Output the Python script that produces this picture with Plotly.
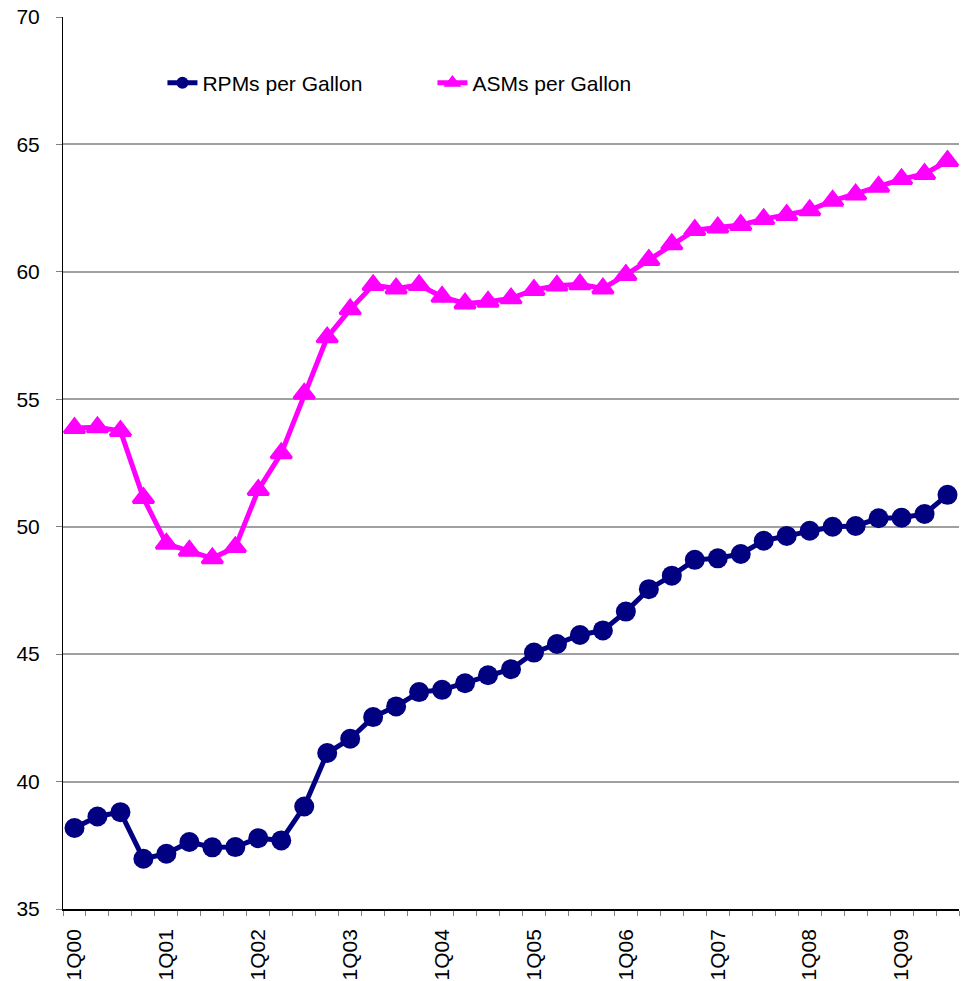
import plotly.graph_objects as go

quarters = [f"{q}Q{y:02d}" for y in range(0, 10) for q in range(1, 5)][:39]

rpms = [38.18, 38.63, 38.80, 36.97, 37.17, 37.63, 37.42, 37.43, 37.78, 37.69,
        39.02, 41.12, 41.68, 42.53, 42.95, 43.51, 43.60, 43.86, 44.17, 44.41,
        45.06, 45.40, 45.75, 45.93, 46.67, 47.55, 48.08, 48.70, 48.76, 48.93,
        49.45, 49.64, 49.84, 50.00, 50.03, 50.33, 50.35, 50.50, 51.25]

asms = [53.87, 53.90, 53.76, 51.13, 49.33, 49.06, 48.76, 49.20, 51.44, 52.88,
        55.22, 57.43, 58.53, 59.48, 59.35, 59.48, 59.02, 58.76, 58.83, 58.96,
        59.29, 59.46, 59.51, 59.35, 59.88, 60.47, 61.08, 61.64, 61.74, 61.84,
        62.07, 62.23, 62.42, 62.79, 63.04, 63.34, 63.64, 63.84, 64.35]

y_ticks = [35, 40, 45, 50, 55, 60, 65, 70]

FONT = "Arial, Liberation Sans, sans-serif"
xi = list(range(len(quarters)))

fig = go.Figure()
fig.add_trace(go.Scatter(
    x=xi, y=rpms, name="RPMs per Gallon", mode="lines+markers",
    line=dict(color="#000080", width=5),
    marker=dict(symbol="circle", size=20, color="#000080"),
    cliponaxis=False,
))
fig.add_trace(go.Scatter(
    x=xi, y=asms, name="ASMs per Gallon", mode="lines+markers",
    line=dict(color="#FF00FF", width=5),
    marker=dict(symbol="triangle-up", size=18, color="#FF00FF",
                line=dict(color="#FF00FF", width=3)),
    cliponaxis=False,
))

fig.update_layout(
    width=969, height=981, autosize=False,
    margin=dict(l=63, r=10, t=17, b=72),
    plot_bgcolor="white", paper_bgcolor="white",
    font=dict(family=FONT, size=21, color="black"),
    showlegend=True,
    legend=dict(
        orientation="h", x=0.111, y=0.926, xanchor="left", yanchor="middle",
        font=dict(family=FONT, size=21, color="black"),
        bgcolor="rgba(0,0,0,0)", itemsizing="constant",
        entrywidth=225, entrywidthmode="pixels",
    ),
)

fig.update_xaxes(
    range=[-0.5, len(quarters) - 0.5], automargin=False,
    tickmode="array", tickvals=xi[::4], ticktext=quarters[::4],
    tickangle=-90, ticks="", showgrid=False, zeroline=False,
    showline=True, linecolor="black", linewidth=1.5,
    ticklabelstandoff=10, ticklabeloverflow="allow",
    tickfont=dict(family=FONT, size=21, color="black"),
    minor=dict(tick0=-0.5, dtick=1, ticks="outside", ticklen=5,
               tickcolor="#808080", tickwidth=1, showgrid=False),
)

fig.update_yaxes(
    range=[35, 70], automargin=False, tickmode="array", tickvals=y_ticks,
    ticks="outside", ticklen=6, tickcolor="#808080",
    ticklabelstandoff=12, ticklabeloverflow="allow",
    showgrid=True, gridcolor="#A0A0A0", gridwidth=2,
    zeroline=False, showline=True, linecolor="black", linewidth=1,
    tickfont=dict(family=FONT, size=21, color="black"),
)

fig.write_html(
    "out.html",
    config={"displayModeBar": False},
    post_script="document.body.style.margin='0';document.body.style.overflow='hidden';",
)
